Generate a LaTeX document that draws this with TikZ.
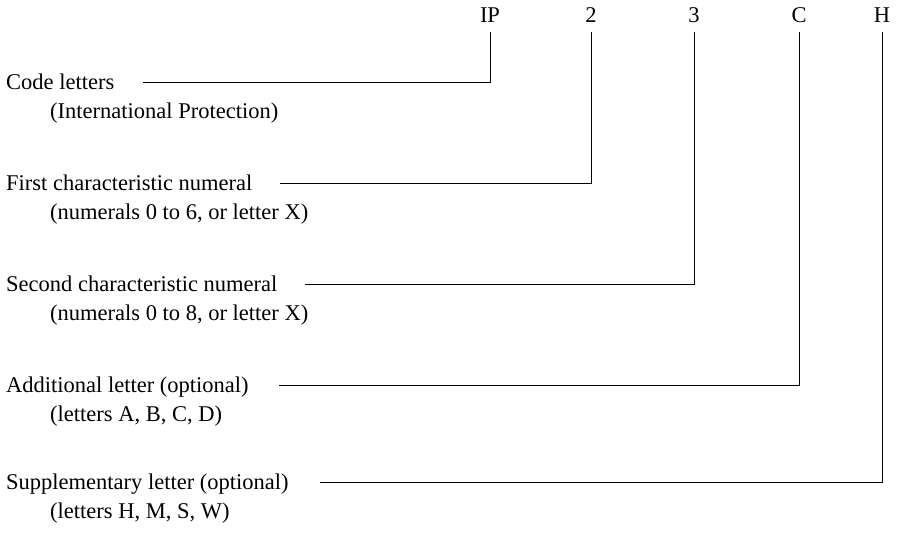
\documentclass[tikz,border=0pt]{standalone}
\usepackage{fontspec}
\setmainfont{Liberation Serif}
\usetikzlibrary{calc}
\begin{document}
\begin{tikzpicture}[x=1pt,y=-1pt,
  lbl/.style={inner sep=0pt,anchor=base west,font=\fontsize{22.5}{26}\selectfont},
  top/.style={inner sep=0pt,anchor=base,font=\fontsize{22.5}{26}\selectfont},
  conn/.style={line width=1pt}]
\useasboundingbox (0,0) rectangle (898,534);
% top code letters
\node[top] (ip) at (490,23) {IP};
\node[top] (c2) at (591,23) {2};
\node[top] (c3) at (694,23) {3};
\node[top] (cc) at (799,23) {C};
\node[top] (ch) at (882,23) {H};
% labels
\node[lbl] (m1) at (6,90) {Code letters};
\node[lbl] (s1) at (50,119) {(International Protection)};
\node[lbl] (m2) at (6,191) {First characteristic numeral};
\node[lbl] (s2) at (50,220) {(numerals 0 to 6, or letter X)};
\node[lbl] (m3) at (6,292) {Second characteristic numeral};
\node[lbl] (s3) at (50,321) {(numerals 0 to 8, or letter X)};
\node[lbl] (m4) at (6,393) {Additional letter (optional)};
\node[lbl] (s4) at (50,422) {(letters A, B, C, D)};
\node[lbl] (m5) at (6,490) {Supplementary letter (optional)};
\node[lbl] (s5) at (50,519) {(letters H, M, S, W)};
% connectors
\draw[conn] ($(m1.base east)+(29,-7)$) -| ([yshift=-9pt]ip.base);
\draw[conn] ($(m2.base east)+(27,-7)$) -| ([yshift=-9pt]c2.base);
\draw[conn] ($(m3.base east)+(27,-7)$) -| ([yshift=-9pt]c3.base);
\draw[conn] ($(m4.base east)+(30,-7)$) -| ([yshift=-9pt]cc.base);
\draw[conn] ($(m5.base east)+(31,-7)$) -| ([yshift=-9pt]ch.base);
\end{tikzpicture}
\end{document}
